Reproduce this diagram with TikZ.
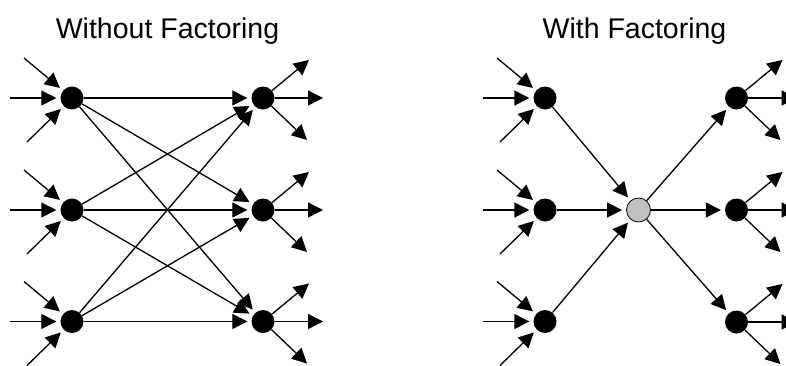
\documentclass[tikz,border=0pt]{standalone}
\usepackage{fontspec}
\setmainfont{Liberation Sans}
\usetikzlibrary{arrows.meta,calc}
\definecolor{hubgray}{RGB}{192,192,192}
\begin{document}
\begin{tikzpicture}[x=1pt,y=-1pt,
  dot/.style={circle,fill=black,minimum size=23pt,inner sep=0pt},
  hub/.style={circle,fill=hubgray,draw=black,line width=0.8pt,minimum size=24pt,inner sep=0pt},
  arr/.style={line width=1.3pt,-{Triangle[length=15pt,width=15pt]},shorten >=4pt},
  outarr/.style={line width=1.3pt,-{Triangle[length=15pt,width=15pt]}},
  title/.style={font=\fontsize{28.5}{34}\selectfont,anchor=base,inner sep=0pt}
]
\useasboundingbox (0,0) rectangle (786,365);
\clip (0,0) rectangle (786,365);

\node[title] (t1) at (167.5,38) {Without Factoring};
\node[title] (t2) at (634.5,38) {With Factoring};

% left panel
\node[dot] (L1) at (72,98) {};
\node[dot] (L2) at (72,210) {};
\node[dot] (L3) at (72,321.5) {};
\node[dot] (R1) at (263,98) {};
\node[dot] (R2) at (263,210) {};
\node[dot] (R3) at (263,321.5) {};
% right panel
\node[dot] (A1) at (545,98) {};
\node[dot] (A2) at (545,210) {};
\node[dot] (A3) at (545,321.5) {};
\node[hub] (H) at (638.5,210) {};
\node[dot] (B1) at (736.5,98) {};
\node[dot] (B2) at (736.5,210) {};
\node[dot] (B3) at (736.5,322) {};

% inputs
\foreach \n in {L1,L2,L3,A1,A2,A3}{
  \coordinate (\n-i1) at ($(\n.center)+(-48,-40)$);
  \coordinate (\n-i2) at ($(\n.center)+(-62,0)$);
  \coordinate (\n-i3) at ($(\n.center)+(-45,44)$);
  \draw[arr] (\n-i1) -- (\n);
  \draw[arr] (\n-i2) -- (\n);
  \draw[arr] (\n-i3) -- (\n);
}
% outputs
\foreach \n in {R1,R2,R3,B1,B2,B3}{
  \coordinate (\n-o1) at ($(\n.center)+(46,-38)$);
  \coordinate (\n-o2) at ($(\n.center)+(60,0)$);
  \coordinate (\n-o3) at ($(\n.center)+(44,42)$);
  \draw[outarr] (\n) -- (\n-o1);
  \draw[outarr] (\n) -- (\n-o2);
  \draw[outarr] (\n) -- (\n-o3);
}
% full connection
\foreach \a in {L1,L2,L3}{
  \foreach \b in {R1,R2,R3}{
    \draw[arr] (\a) -- (\b);
  }
}
% factored
\foreach \a in {A1,A2,A3}{ \draw[arr] (\a) -- (H); }
\foreach \b in {B1,B2,B3}{ \draw[arr] (H) -- (\b); }
\end{tikzpicture}
\end{document}
